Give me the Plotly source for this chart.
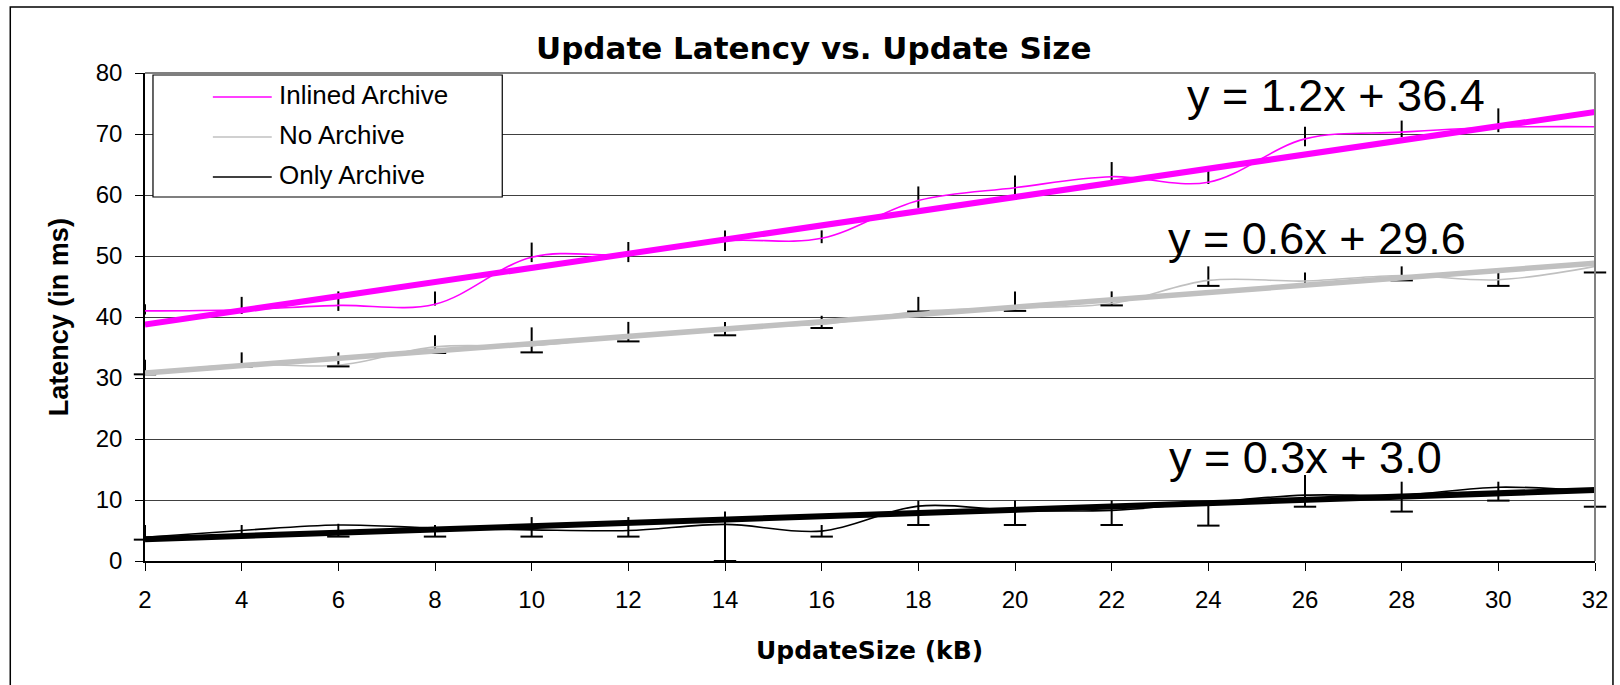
import numpy as np
import plotly.graph_objects as go

# Update size (kB) on the x axis
update_size_kb = [2, 4, 6, 8, 10, 12, 14, 16, 18, 20, 22, 24, 26, 28, 30, 32]

# Mean latency (ms) with low / high extent of each measurement
inlined_ms = [41.0, 41.2, 41.9, 42.1, 49.8, 50.3, 52.5, 52.9, 59.1, 61.2, 63.0, 62.1, 69.2, 70.3, 71.1, 71.2]
inlined_low = [40.4, 40.5, 41.0, 41.9, 49.0, 49.0, 50.8, 52.1, 57.9, 60.1, 62.3, 61.8, 68.0, 69.5, 70.3, 71.1]
inlined_high = [42.1, 43.3, 44.2, 44.2, 52.2, 52.3, 54.2, 54.2, 61.4, 63.2, 65.4, 64.3, 71.2, 72.2, 74.2, 73.3]

no_archive_ms = [30.8, 32.2, 32.1, 35.1, 35.3, 36.9, 38.2, 38.8, 40.9, 41.5, 42.2, 46.0, 45.9, 46.8, 46.1, 48.3]
no_archive_low = [30.6, 31.9, 31.9, 34.1, 34.2, 36.0, 37.0, 38.2, 40.9, 41.0, 41.9, 45.1, 45.1, 46.0, 45.1, 47.3]
no_archive_high = [33.0, 34.2, 34.2, 37.0, 38.3, 39.2, 39.2, 40.2, 43.3, 44.2, 44.2, 48.3, 47.3, 48.3, 47.3, 48.9]

only_archive_ms = [3.9, 5.0, 5.9, 5.4, 5.1, 5.0, 6.0, 4.9, 9.0, 8.3, 8.3, 9.6, 10.8, 10.8, 12.1, 11.4]
only_archive_low = [3.5, 4.0, 4.0, 4.0, 4.0, 4.0, 0.0, 4.0, 5.9, 5.9, 5.9, 5.8, 8.9, 8.1, 9.9, 8.9]
only_archive_high = [5.9, 5.9, 6.1, 5.9, 7.2, 7.2, 8.1, 5.9, 9.9, 9.9, 9.9, 9.7, 14.1, 13.0, 13.0, 13.0]

series_names = ["Inlined Archive", "No Archive", "Only Archive"]
series_colors = ["#FF00FF", "#C0C0C0", "#000000"]

ARIAL = "Liberation Sans, Arial, sans-serif"
WIDE_BOLD = "DejaVu Sans, Liberation Sans, sans-serif"

# plot-area pixel box
L, R, T, B = 145, 1598, 73, 561
W, H = 1620, 685


def fx(px):
    return (px - L) / (R - L)


def fy(py):
    return (B - py) / (B - T)


x = np.array(update_size_kb, dtype=float)
series = [
    (inlined_ms, inlined_low, inlined_high, False),
    (no_archive_ms, no_archive_low, no_archive_high, True),
    (only_archive_ms, only_archive_low, only_archive_high, True),
]

fig = go.Figure()

# measured series: smoothed thin line with error bars
for (vals, lo, hi, capped), name, color in zip(series, series_names, series_colors):
    v = np.array(vals)
    plus = np.array(hi) - v
    minus = v - np.array(lo)
    fig.add_trace(go.Scatter(
        x=update_size_kb, y=vals, name=name, mode="lines",
        line=dict(color=color, width=1.6, shape="spline", smoothing=1.0),
        error_y=dict(type="data", symmetric=False, array=plus, arrayminus=minus,
                     color="black", thickness=2, width=0),
        showlegend=False, cliponaxis=False,
    ))
    if capped:
        fig.add_trace(go.Scatter(
            x=update_size_kb, y=lo, mode="markers", hoverinfo="skip",
            marker=dict(symbol="line-ew", size=16, line=dict(color="black", width=2)),
            showlegend=False, cliponaxis=False,
        ))

# linear trend lines and their equations
eq_pos = [(1338, 96), (1319, 238), (1308, 457)]
trend_widths = [6, 5.5, 6]
for (vals, _, _, _), color, tw, (ex, ey) in zip(series, series_colors, trend_widths, eq_pos):
    m, b = np.polyfit(x, np.array(vals), 1)
    fig.add_trace(go.Scatter(
        x=update_size_kb, y=m * x + b, mode="lines",
        line=dict(color=color, width=tw), showlegend=False, hoverinfo="skip",
    ))
    fig.add_annotation(
        x=fx(ex), y=fy(ey), xref="paper", yref="paper",
        text=f"y = {m:.1f}x + {b:.1f}", showarrow=False,
        xanchor="center", yanchor="middle",
        font=dict(family=ARIAL, size=45, color="black"),
    )

shapes = [
    # outer chart frame
    dict(type="rect", xref="paper", yref="paper", x0=fx(10), x1=fx(1616), y0=fy(700), y1=fy(7),
         line=dict(color="black", width=1.5), layer="below"),
    # plot-area frame, top and right
    dict(type="line", xref="paper", yref="paper", x0=0, x1=1, y0=1, y1=1,
         line=dict(color="#808080", width=2)),
    dict(type="line", xref="paper", yref="paper", x0=1, x1=1, y0=0, y1=1,
         line=dict(color="#808080", width=2)),
    # legend box
    dict(type="rect", xref="paper", yref="paper", x0=fx(153), x1=fx(503), y0=fy(197), y1=fy(75),
         line=dict(color="black", width=1.2), fillcolor="white", layer="above"),
]

legend_rows = [97, 137, 177]
for name, color, ly in zip(series_names, series_colors, legend_rows):
    shapes.append(dict(type="line", xref="paper", yref="paper", x0=fx(213), x1=fx(272),
                       y0=fy(ly), y1=fy(ly), line=dict(color=color, width=1.6), layer="above"))
    fig.add_annotation(
        x=fx(277), y=fy(ly - 2), xref="paper", yref="paper", text=name, showarrow=False,
        xanchor="left", yanchor="middle", font=dict(family=ARIAL, size=26, color="black"),
    )

# titles
fig.add_annotation(
    x=fx(815), y=fy(48), xref="paper", yref="paper", text="Update Latency vs. Update Size",
    showarrow=False, xanchor="center", yanchor="middle",
    font=dict(family=WIDE_BOLD, size=31, color="black", weight="bold"),
)
fig.add_annotation(
    x=fx(871), y=fy(650), xref="paper", yref="paper", text="UpdateSize (kB)",
    showarrow=False, xanchor="center", yanchor="middle",
    font=dict(family=WIDE_BOLD, size=25, color="black", weight="bold"),
)
fig.add_annotation(
    x=fx(59), y=fy(317), xref="paper", yref="paper", text="Latency (in ms)", textangle=-90,
    showarrow=False, xanchor="center", yanchor="middle",
    font=dict(family=ARIAL, size=27, color="black", weight="bold"),
)

fig.update_layout(
    width=W, height=H,
    margin=dict(l=L, r=W - R, t=T, b=H - B, pad=0),
    plot_bgcolor="white", paper_bgcolor="white",
    showlegend=False,
    shapes=shapes,
    xaxis=dict(
        range=[2, 32], tickvals=update_size_kb, ticks="outside", ticklen=8,
        tickcolor="black", tickwidth=1, showline=True, linecolor="black", linewidth=1.5,
        showgrid=False, zeroline=False, ticklabelstandoff=8,
        tickfont=dict(family=ARIAL, size=24, color="black"),
    ),
    yaxis=dict(
        range=[0, 80], dtick=10, ticks="outside", ticklen=8, tickcolor="black", tickwidth=1,
        showline=True, linecolor="black", linewidth=1.5,
        showgrid=True, gridcolor="#404040", gridwidth=1, zeroline=False,
        tickfont=dict(family=ARIAL, size=24, color="black"), ticklabelstandoff=8,
    ),
)

fig.write_html("out.html")
